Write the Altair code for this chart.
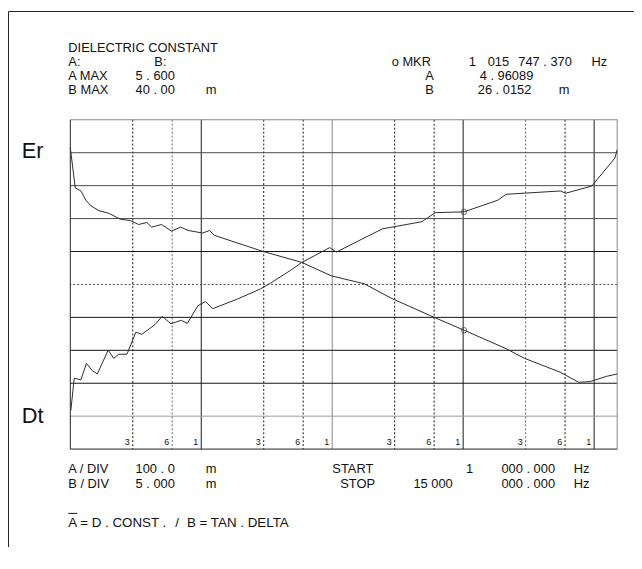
import altair as alt
import pandas as pd

# ---------------- data ----------------
# A trace: dielectric constant (linear units) vs frequency (Hz)
freq_a = [1000, 1091, 1204, 1314, 1433, 1656, 1970, 2415, 2873, 3320, 3834, 4183,
          4977, 5922, 6974, 7918, 10278, 11549, 12599, 29170, 58490, 98560, 152200,
          175900, 279700, 577700, 1015747, 2128000, 2926000, 5539000, 7614000,
          9331000, 12450000, 15000000]
dielectric_const = [5.515, 5.393, 5.384, 5.356, 5.339, 5.324, 5.316, 5.298, 5.294, 5.282,
                    5.288, 5.274, 5.282, 5.262, 5.274, 5.264, 5.256, 5.264, 5.249, 5.201,
                    5.167, 5.126, 5.108, 5.102, 5.059, 5.003, 4.961, 4.905, 4.876, 4.833,
                    4.803, 4.805, 4.821, 4.828]

# B trace: tan delta (milli units) vs frequency (Hz)
freq_b = [1009, 1072, 1204, 1328, 1474, 1608, 1946, 2149, 2344, 2708, 3168, 3516, 4438,
          5039, 5861, 7047, 7824, 9424, 10772, 12226, 18890, 28330, 33710, 47710, 58490,
          95680, 107500, 152200, 203400, 242100, 485500, 611700, 1015747, 1839000,
          2128000, 5539000, 6040000, 9595000, 14410000, 15000000]
tan_delta_m = [-4.14, 0.77, 0.51, 3.02, 1.91, 1.41, 5.02, 3.77, 4.41, 4.41, 7.76, 7.42,
               8.92, 10.16, 9.02, 9.56, 9.07, 11.77, 12.42, 11.32, 12.78, 14.32, 15.18,
               17.10, 18.33, 20.59, 19.92, 21.43, 22.69, 23.44, 24.53, 25.90, 26.02,
               27.79, 28.69, 29.19, 28.84, 29.94, 34.19, 35.45]

marker_freq = [1015747.370]
marker_a = [4.96089]
marker_b = [26.0152]

a_domain = [4.6, 5.6]      # A MAX 5.600, A/DIV 100.0 m
b_domain = [-10.0, 40.0]   # B MAX 40.00 m, B/DIV 5.000 m
f_domain = [1000, 15000000]

grid_solid_dark = [10000, 1000000, 10000000]
grid_solid_gray = [100000]
grid_dot_dark = [3000, 30000, 60000, 300000, 600000, 6000000]
grid_dot_light = [6000, 3000000]

div_black = [2, 3, 4, 6]
div_dark = [7, 8, 9]
div_light = [1]
div_dotted = [5]

tick_freqs = [3000, 6000, 10000, 30000, 60000, 100000, 300000, 600000, 1000000,
              3000000, 6000000, 10000000]
tick_texts = ["3", "6", "1", "3", "6", "1", "3", "6", "1", "3", "6", "1"]

texts = ["DIELECTRIC CONSTANT",
         "A:", "B:", "o MKR", "1", "015", "747 . 370", "Hz",
         "A MAX", "5 . 600", "A", "4 . 96089",
         "B MAX", "40 . 00", "m", "B", "26 . 0152", "m",
         "A / DIV", "100 . 0", "m", "START", "1", "000 . 000", "Hz",
         "B / DIV", "5 . 000", "m", "STOP", "15 000", "000 . 000", "Hz",
         "A = D . CONST .", "/", "B = TAN . DELTA",
         "Er", "Dt"]

# ---------------- layout ----------------
W, H = 553, 333
OX, OY = 71, 118           # page position of plot origin
PAD = {"left": 63, "top": 110, "right": 17, "bottom": 99}
FONT = "Liberation Sans"
INK = "#111111"

# page positions (left x, center y, font size) for each text above
text_layout = [(69, 45, 13),
               (69, 60, 13), (156, 60, 13), (396, 60, 13), (474, 60, 13), (493, 60, 13), (524, 60, 13), (598, 60, 13),
               (69, 74, 13), (137, 74, 13), (430, 74, 13), (485, 74, 13),
               (69, 88, 13), (137, 88, 13), (208, 88, 13), (430, 88, 13), (483, 88, 13), (565, 88, 13),
               (69, 471, 13), (137, 471, 13), (208, 471, 13), (336, 471, 13), (471, 471, 13), (507, 471, 13), (580, 471, 13),
               (69, 486, 13), (137, 486, 13), (208, 486, 13), (344, 486, 13), (418, 486, 13), (507, 486, 13), (580, 486, 13),
               (69, 526, 13.5), (177, 526, 13.5), (189, 526, 13.5),
               (22, 150, 22), (22, 418, 22)]

xs = alt.Scale(type="log", domain=f_domain, nice=False)
dummy = pd.DataFrame({"k": [0]})


def vrules(vals, color, dash=None):
    kw = {"color": color, "strokeWidth": 1}
    if dash:
        kw["strokeDash"] = dash
    return alt.Chart(pd.DataFrame({"f": vals})).mark_rule(**kw).encode(
        x=alt.X("f:Q", scale=xs, axis=None))


def hrules(vals, color, dash=None):
    kw = {"color": color, "strokeWidth": 1}
    if dash:
        kw["strokeDash"] = dash
    return alt.Chart(pd.DataFrame({"d": vals})).mark_rule(**kw).encode(
        y=alt.Y("d:Q", scale=alt.Scale(domain=[0, 10], nice=False, zero=False), axis=None))


layers = [
    vrules(grid_dot_light, "#666666", [2, 2]),
    vrules(grid_dot_dark, "#111111", [2, 2]),
    vrules(grid_solid_gray, "#888888"),
    vrules(grid_solid_dark, "#1a1a1a"),
    hrules(div_light, "#9a9a9a"),
    hrules(div_dark, "#4a4a4a"),
    hrules(div_dotted, "#444444", [2, 2]),
    hrules(div_black, "#111111"),
    # frame
    alt.Chart(dummy).mark_rule(color="#888888").encode(y=alt.value(0)),
    alt.Chart(dummy).mark_rule(color="#888888").encode(x=alt.value(W)),
    alt.Chart(dummy).mark_rule(color="#222222").encode(y=alt.value(H)),
    alt.Chart(dummy).mark_rule(color="#222222").encode(x=alt.value(0)),
]

a_df = pd.DataFrame({"f": freq_a, "v": dielectric_const})
b_df = pd.DataFrame({"f": freq_b, "v": tan_delta_m})
ya = alt.Scale(domain=a_domain, nice=False, zero=False)
yb = alt.Scale(domain=b_domain, nice=False, zero=False)

layers += [
    alt.Chart(a_df).mark_line(color="#2a2a2a", strokeWidth=1).encode(
        x=alt.X("f:Q", scale=xs, axis=None), y=alt.Y("v:Q", scale=ya, axis=None)),
    alt.Chart(b_df).mark_line(color="#2a2a2a", strokeWidth=1).encode(
        x=alt.X("f:Q", scale=xs, axis=None), y=alt.Y("v:Q", scale=yb, axis=None)),
    alt.Chart(pd.DataFrame({"f": marker_freq, "v": marker_a})).mark_point(
        shape="circle", filled=False, size=30, color="#333333", strokeWidth=1).encode(
        x=alt.X("f:Q", scale=xs, axis=None), y=alt.Y("v:Q", scale=ya, axis=None)),
    alt.Chart(pd.DataFrame({"f": marker_freq, "v": marker_b})).mark_point(
        shape="circle", filled=False, size=30, color="#333333", strokeWidth=1).encode(
        x=alt.X("f:Q", scale=xs, axis=None), y=alt.Y("v:Q", scale=yb, axis=None)),
]

# small decade labels inside the plot bottom
layers.append(
    alt.Chart(pd.DataFrame({"f": tick_freqs, "t": tick_texts})).mark_text(
        align="right", baseline="middle", dx=-3, fontSize=9, font=FONT, color=INK).encode(
        x=alt.X("f:Q", scale=xs, axis=None), y=alt.value(444 - OY), text="t:N"))

# annotation texts
ann = pd.DataFrame({
    "t": texts,
    "px": [p[0] - OX for p in text_layout],
    "py": [p[1] - OY for p in text_layout],
    "sz": [p[2] for p in text_layout],
})
layers.append(
    alt.Chart(ann).mark_text(align="left", baseline="middle", font=FONT, color=INK).encode(
        x=alt.X("px:Q", scale=None), y=alt.Y("py:Q", scale=None),
        size=alt.Size("sz:Q", scale=None, legend=None), text="t:N"))

# overline above "A" in the legend line
layers.append(alt.Chart(dummy).mark_rule(color=INK, strokeWidth=1).encode(
    x=alt.value(69 - OX), x2=alt.value(78 - OX), y=alt.value(516 - OY)))

# outer border (left and top)
layers.append(alt.Chart(dummy).mark_rule(color="#222222", strokeWidth=1).encode(
    x=alt.value(-PAD["left"] + 0.5), y=alt.value(-PAD["top"] + 0.5), y2=alt.value(H + PAD["bottom"])))
layers.append(alt.Chart(dummy).mark_rule(color="#222222", strokeWidth=1).encode(
    y=alt.value(-PAD["top"] + 0.5), x=alt.value(-PAD["left"] + 0.5), x2=alt.value(W + PAD["right"])))

chart = alt.layer(*layers).resolve_scale(
    x="independent", y="independent"
).properties(
    width=W, height=H, padding=PAD, autosize=alt.AutoSizeParams(type="none"),
    background="white"
).configure_view(stroke=None)

chart.save("out.html", embed_options={"renderer": "svg", "actions": False})
